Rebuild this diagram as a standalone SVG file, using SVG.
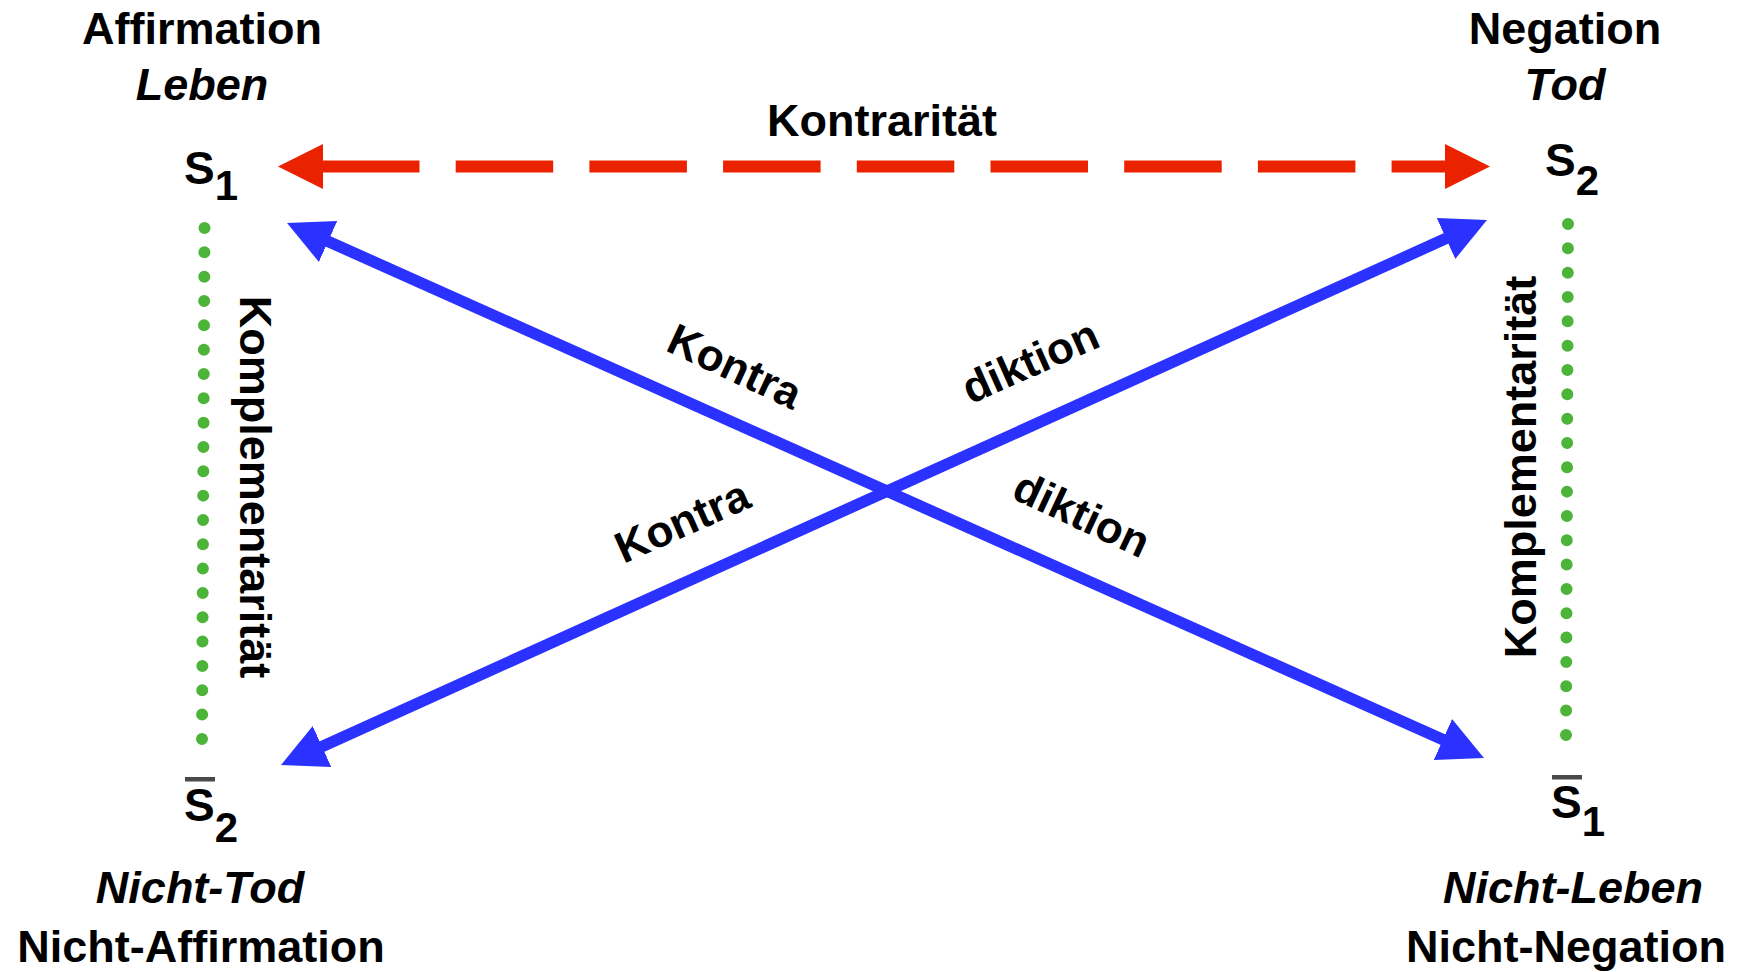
<svg xmlns="http://www.w3.org/2000/svg" width="1744" height="972" viewBox="0 0 1744 972">
  <style>
    text { font-family: "Liberation Sans", Arial, sans-serif; font-weight: bold; fill: #000; }
    .lbl { font-size: 45px; text-anchor: middle; }
    .it { font-style: italic; }
    .sym { font-size: 46px; }
    .sub { font-size: 42px; }
    .diag { font-size: 44px; text-anchor: middle; }
    .red { stroke: #EB2200; stroke-width: 12; fill: none; stroke-dasharray: 97.5 36.2; }
    .blue { stroke: #2B32FF; stroke-width: 11.5; fill: none; }
    .green { stroke: #4CB438; stroke-width: 12; stroke-linecap: round; stroke-dasharray: 0 24.33; fill: none; }
    .bar { fill: #4a4a4a; }
  </style>
  <defs>
    <marker id="headRed" viewBox="0 0 45 45" refX="1" refY="22.5" markerWidth="45" markerHeight="45" markerUnits="userSpaceOnUse" orient="auto-start-reverse">
      <path d="M0,0 L45,22.5 L0,45 Z" fill="#EB2200"/>
    </marker>
    <marker id="headBlue" viewBox="0 0 45 45" refX="1" refY="22.5" markerWidth="45" markerHeight="45" markerUnits="userSpaceOnUse" orient="auto-start-reverse">
      <path d="M0,0 L45,22.5 L0,45 Z" fill="#2B32FF"/>
    </marker>
  </defs>
  <rect width="1744" height="972" fill="#fff"/>

  <g id="connectors">
    <line id="kontraritaet" class="red" x1="322" y1="166.5" x2="1446" y2="166.5" marker-start="url(#headRed)" marker-end="url(#headRed)"/>
    <line id="kontradiktion1" class="blue" x1="327.2" y1="241" x2="1443.8" y2="740" marker-start="url(#headBlue)" marker-end="url(#headBlue)"/>
    <line id="kontradiktion2" class="blue" x1="321.1" y1="746.9" x2="1446.9" y2="238.1" marker-start="url(#headBlue)" marker-end="url(#headBlue)"/>
    <line id="komplementaritaet1" class="green" x1="204.5" y1="228" x2="202" y2="739"/>
    <line id="komplementaritaet2" class="green" x1="1568" y1="224" x2="1566" y2="736"/>
  </g>

  <g id="connector-labels">
    <text class="lbl" x="882" y="136">Kontrarität</text>
    <g transform="translate(240,487) rotate(90)"><text class="lbl" x="0" y="0">Komplementarität</text></g>
    <g transform="translate(1536,467) rotate(-90)"><text class="lbl" x="0" y="0">Komplementarität</text></g>
    <g transform="translate(735,366) rotate(25)"><text class="diag" x="0" y="15.5">Kontra</text></g>
    <g transform="translate(1030,361) rotate(-24)"><text class="diag" x="0" y="15.5">diktion</text></g>
    <g transform="translate(682,521) rotate(-24)"><text class="diag" x="0" y="15.5">Kontra</text></g>
    <g transform="translate(1082,514) rotate(25)"><text class="diag" x="0" y="15.5">diktion</text></g>
  </g>

  <g id="node-s1">
    <text class="lbl" x="202" y="44">Affirmation</text>
    <text class="lbl it" x="202" y="100">Leben</text>
    <text class="sym" x="184" y="184">S<tspan class="sub" dy="16">1</tspan></text>
  </g>

  <g id="node-s2">
    <text class="lbl" x="1565" y="44">Negation</text>
    <text class="lbl it" x="1565" y="100">Tod</text>
    <text class="sym" x="1545" y="176">S<tspan class="sub" dy="19">2</tspan></text>
  </g>

  <g id="node-s2bar">
    <rect class="bar" x="185" y="777" width="30" height="4.5"/>
    <text class="sym" x="184" y="821">S<tspan class="sub" dy="21">2</tspan></text>
    <text class="lbl it" x="200" y="903">Nicht-Tod</text>
    <text class="lbl" x="201" y="962">Nicht-Affirmation</text>
  </g>

  <g id="node-s1bar">
    <rect class="bar" x="1552" y="775" width="30" height="4.5"/>
    <text class="sym" x="1551" y="818">S<tspan class="sub" dy="18">1</tspan></text>
    <text class="lbl it" x="1573" y="903">Nicht-Leben</text>
    <text class="lbl" x="1566" y="962">Nicht-Negation</text>
  </g>
</svg>
